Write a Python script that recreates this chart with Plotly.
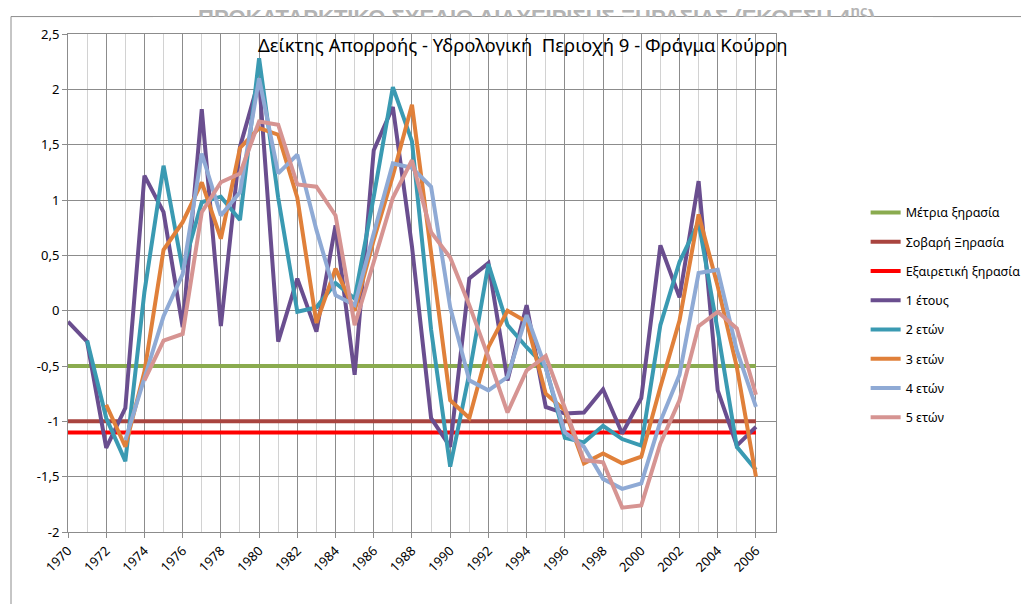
import plotly.graph_objects as go

years = list(range(1970, 2007))

spi_1 = [-0.10, -0.28, -1.24, -0.88, 1.22, 0.89, -0.15, 1.82, -0.14, 1.48, 2.09, -0.28, 0.29, -0.19, 0.77, -0.58,
         1.45, 1.84, 0.58, -0.97, -1.23, 0.29, 0.43, -0.63, 0.05, -0.87, -0.93, -0.92, -0.71, -1.11, -0.79,
         0.59, 0.12, 1.17, -0.72, -1.22, -1.05]
spi_2 = [None, -0.27, -0.97, -1.36, 0.17, 1.31, 0.37, 0.98, 1.03, 0.82, 2.28, 1.02, -0.01, 0.03, 0.25, 0.11,
         1.03, 2.02, 1.53, -0.17, -1.41, -0.57, 0.42, -0.13, -0.33, -0.51, -1.15, -1.19, -1.04, -1.16, -1.22,
         -0.13, 0.44, 0.80, -0.18, -1.23, -1.44]
spi_3 = [None, None, -0.85, -1.23, -0.55, 0.55, 0.80, 1.16, 0.65, 1.47, 1.65, 1.59, 1.02, -0.11, 0.38, 0.0,
         0.64, 1.22, 1.86, 0.55, -0.81, -0.97, -0.33, 0.0, -0.10, -0.75, -0.90, -1.38, -1.29, -1.38, -1.32,
         -0.69, -0.09, 0.87, 0.22, -0.51, -1.50]
spi_4 = [None, None, None, -1.17, -0.60, -0.05, 0.33, 1.42, 0.86, 1.07, 2.10, 1.24, 1.41, 0.73, 0.14, 0.05,
         0.70, 1.33, 1.29, 1.12, 0.03, -0.63, -0.72, -0.60, -0.04, -0.52, -1.10, -1.23, -1.52, -1.61, -1.56,
         -1.00, -0.58, 0.34, 0.37, -0.36, -0.87]
spi_5 = [None, None, None, None, -0.63, -0.27, -0.21, 0.89, 1.16, 1.24, 1.71, 1.68, 1.14, 1.12, 0.86, -0.13,
         0.44, 1.02, 1.36, 0.71, 0.48, 0.05, -0.42, -0.92, -0.54, -0.41, -0.88, -1.35, -1.37, -1.78, -1.76,
         -1.20, -0.81, -0.14, -0.01, -0.16, -0.76]

thresholds = {"Μέτρια ξηρασία": -0.5, "Σοβαρή Ξηρασία": -1.0, "Εξαιρετική ξηρασία": -1.1}
threshold_colors = ["#8AAB4F", "#A9443F", "#FF0000"]

series_names = ["1 έτους", "2 ετών", "3 ετών", "4 ετών", "5 ετών"]
series_colors = ["#6A4E8F", "#3A9AB2", "#E0803A", "#8FAAD5", "#D69492"]

y_ticks = [2.5, 2, 1.5, 1, 0.5, 0, -0.5, -1, -1.5, -2]
y_labels = ["2,5", "2", "1,5", "1", "0,5", "0", "-0,5", "-1", "-1,5", "-2"]
x_ticks = list(range(1970, 2007, 2))

fig = go.Figure()

for (name, val), col in zip(thresholds.items(), threshold_colors):
    fig.add_trace(go.Scatter(x=years, y=[val] * len(years), mode="lines", name=name,
                             line=dict(color=col, width=4), legendgroup=name))

for name, vals, col in zip(series_names, [spi_1, spi_2, spi_3, spi_4, spi_5], series_colors):
    fig.add_trace(go.Scatter(x=years, y=vals, mode="lines", name=name,
                             line=dict(color=col, width=4), legendgroup=name))

# faint header partly hidden behind the chart frame
fig.add_annotation(text="<b>ΠΡΟΚΑΤΑΡΚΤΙΚΟ ΣΧΕΔΙΟ ΔΙΑΧΕΙΡΙΣΗΣ ΞΗΡΑΣΙΑΣ (ΕΚΘΕΣΗ 4<sup>ης</sup>)</b>",
                   xref="paper", yref="paper", x=0.6615, y=1.036, xanchor="center", yanchor="middle",
                   showarrow=False, font=dict(family="Liberation Sans", size=22, color="#b4b4b4"))
fig.add_annotation(text=" ", xref="paper", yref="paper", x=0.12, y=1.034, xanchor="left", yanchor="top",
                   width=780, height=15, bgcolor="white", borderpad=0, borderwidth=0, showarrow=False)

fig.add_annotation(text="Δείκτης Απορροής - Υδρολογική  Περιοχή 9 - Φράγμα Κούρρη",
                   xref="paper", yref="paper", x=0.643, y=0.978, xanchor="center", yanchor="middle",
                   showarrow=False, font=dict(family="Noto Sans", size=18.5, color="#000000"))

# outer chart frame
fig.add_shape(type="line", xref="paper", yref="paper", x0=-0.0805, x1=1.5, y0=1.035, y1=1.035,
              line=dict(color="#8c8c8c", width=1))
fig.add_shape(type="line", xref="paper", yref="paper", x0=-0.0805, x1=-0.0805, y0=1.035, y1=-0.3,
              line=dict(color="#8c8c8c", width=1))

fig.update_layout(
    width=1029, height=604,
    margin=dict(l=60, r=260, t=26, b=80),
    plot_bgcolor="white", paper_bgcolor="white",
    font=dict(family="Noto Sans", size=12, color="#000000"),
    showlegend=True,
    legend=dict(x=1.125, y=0.671, xanchor="left", yanchor="top", tracegroupgap=10,
                font=dict(size=12.5), bgcolor="rgba(0,0,0,0)"),
    xaxis=dict(range=[1970, 2007.05], tickvals=x_ticks, ticktext=[str(v) for v in x_ticks], tickangle=-45,
               showgrid=True, gridcolor="#8c8c8c", gridwidth=1,
               minor=dict(dtick=1, tick0=1971, showgrid=True, gridcolor="#d2d2d2", gridwidth=1),
               ticks="outside", ticklen=5, tickcolor="#8c8c8c",
               showline=True, linecolor="#8c8c8c", mirror=True, zeroline=False,
               tickfont=dict(size=13)),
    yaxis=dict(range=[-2, 2.5], tickvals=y_ticks, ticktext=y_labels,
               showgrid=True, gridcolor="#8c8c8c", gridwidth=1,
               ticks="outside", ticklen=5, tickcolor="#8c8c8c",
               showline=True, linecolor="#8c8c8c", mirror=True, zeroline=False,
               tickfont=dict(size=13)),
)

fig.write_html("out.html")
